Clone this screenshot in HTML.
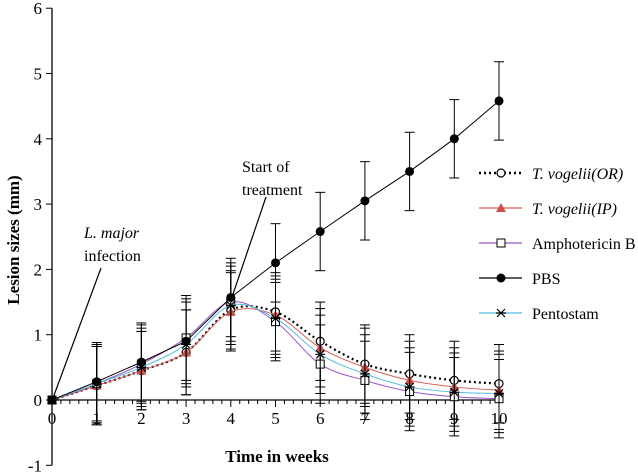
<!DOCTYPE html>
<html><head><meta charset="utf-8"><style>
body{margin:0;background:#fff}
svg{display:block}
svg text{font-family:"Liberation Serif","Times New Roman",serif}
</style></head><body>
<svg id="chart" width="638" height="476" viewBox="0 0 638 476" font-family="Liberation Serif, serif">
<g id="axes"></g><g id="series"></g><g id="legend"></g>
<g font-size="16">
<text x="84" y="238" font-style="italic">L. major</text>
<text x="84" y="261">infection</text>
<line x1="101" y1="268" x2="53" y2="398" stroke="#000" stroke-width="1.2"/>
<text x="242" y="172">Start of</text>
<text x="242" y="195">treatment</text>
<line x1="266" y1="197" x2="231" y2="300" stroke="#000" stroke-width="1.2"/>
</g>
<text x="277" y="462" text-anchor="middle" font-weight="bold" font-size="17">Time in weeks</text>
<text transform="translate(19,240) rotate(-90)" text-anchor="middle" font-weight="bold" font-size="17">Lesion sizes (mm)</text>
</svg>
<script>
const weeks=[0,1,2,3,4,5,6,7,8,9,10];
const orVals=[0,0.22,0.45,0.73,1.38,1.35,0.9,0.55,0.4,0.3,0.25];
const ipVals=[0,0.22,0.45,0.73,1.35,1.3,0.8,0.5,0.3,0.2,0.15];
const ambVals=[0,0.25,0.55,0.95,1.5,1.2,0.55,0.3,0.13,0.05,0.02];
const pbsVals=[0,0.28,0.58,0.9,1.57,2.1,2.58,3.05,3.5,4.0,4.58];
const pentoVals=[0,0.25,0.5,0.85,1.45,1.25,0.7,0.4,0.2,0.12,0.1];
const errVals=[0,0.6,0.6,0.65,0.6,0.6,0.6,0.6,0.6,0.6,0.6];
const yTicks=[-1,0,1,2,3,4,5,6];
const xTicks=[0,1,2,3,4,5,6,7,8,9,10];
const NS="http://www.w3.org/2000/svg";
const X=v=>52+v*44.7, Y=v=>400-v*65.3;
function mk(t,a,p){const e=document.createElementNS(NS,t);for(const k in a)e.setAttribute(k,a[k]);p.appendChild(e);return e;}
const ax=document.getElementById('axes');
let e=mk('line',{x1:52,y1:Y(6),x2:52,y2:Y(-1),stroke:'#000','stroke-width':1.3},ax);


e=mk('line',{x1:52,y1:400,x2:X(10)+2,y2:400,stroke:'#000','stroke-width':1.3},ax);


yTicks.forEach(v=>{mk('line',{x1:46,y1:Y(v),x2:52,y2:Y(v),stroke:'#000'},ax);
 const t=mk('text',{x:42,y:Y(v)+6,'text-anchor':'end','font-size':17},ax);t.textContent=v;
 
 });
for(let i=0;i<=50;i++){const v=i/5;mk('line',{x1:X(v),y1:400,x2:X(v),y2:i%5?404:407,stroke:'#000'},ax);}
xTicks.forEach(v=>{const t=mk('text',{x:X(v),y:424,'text-anchor':'middle','font-size':17},ax);t.textContent=v;
 
 });
const sg=document.getElementById('series');
function smooth(vals){const p=weeks.map((w,i)=>[X(w),Y(vals[i])]);let d='M'+p[0];
 for(let i=0;i<p.length-1;i++){const p0=p[i-1]||p[i],p1=p[i],p2=p[i+1],p3=p[i+2]||p2;
 d+=' C'+(p1[0]+(p2[0]-p0[0])/6)+','+(p1[1]+(p2[1]-p0[1])/6)+' '+(p2[0]-(p3[0]-p1[0])/6)+','+(p2[1]-(p3[1]-p1[1])/6)+' '+p2;}return d;}
const series=[
 {name:'or',vals:orVals,color:'#000',dash:'2,3',w:2.2,smooth:true,m:'circle-open'},
 {name:'ip',vals:ipVals,color:'#d9605a',w:1,smooth:true,m:'tri'},
 {name:'amb',vals:ambVals,color:'#9955cc',w:1,smooth:true,m:'square'},
 {name:'pento',vals:pentoVals,color:'#55bbdd',w:1,smooth:true,m:'star'},
 {name:'pbs',vals:pbsVals,color:'#000',w:1,smooth:false,m:'dot'}];
function marker(m,x,y,g,c){
 if(m==='circle-open')mk('circle',{cx:x,cy:y,r:4,fill:'#fff',stroke:'#000','stroke-width':1.2},g);
 if(m==='tri')mk('path',{d:`M${x},${y-5}L${x+5},${y+4}L${x-5},${y+4}Z`,fill:'#c9504c'},g);
 if(m==='square')mk('rect',{x:x-4,y:y-4,width:8,height:8,fill:'#fff',stroke:'#000'},g);
 if(m==='star')mk('path',{d:`M${x-4},${y-4}L${x+4},${y+4}M${x+4},${y-4}L${x-4},${y+4}M${x-5},${y}L${x+5},${y}`,stroke:'#000','stroke-width':1.2},g);
 if(m==='dot')mk('circle',{cx:x,cy:y,r:4.5,fill:'#000'},g);}
series.forEach(s=>{const g=mk('g',{},sg);
 
 
 weeks.forEach((w,i)=>{if(!errVals[i])return;const x=X(w);
  mk('line',{x1:x,y1:Y(s.vals[i]-errVals[i]),x2:x,y2:Y(s.vals[i]+errVals[i]),stroke:'#000'},g);
  [s.vals[i]-errVals[i],s.vals[i]+errVals[i]].forEach(v=>mk('line',{x1:x-5,y1:Y(v),x2:x+5,y2:Y(v),stroke:'#000'},g));});
 const d=s.smooth?smooth(s.vals):'M'+weeks.map((w,i)=>X(w)+','+Y(s.vals[i])).join('L');
 const a={d,fill:'none',stroke:s.color,'stroke-width':s.w};if(s.dash)a['stroke-dasharray']=s.dash;mk('path',a,g);
 weeks.forEach((w,i)=>marker(s.m,X(w),Y(s.vals[i]),g));});
const lg=document.getElementById('legend');
const labels=[['T. vogelii(OR)',true],['T. vogelii(IP)',true],['Amphotericin B',false],['PBS',false],['Pentostam',false]];
const order=[0,1,2,4,3];
labels.forEach((l,i)=>{const s=series[order[i]];const y=173+i*35;const g=mk('g',{},lg);
 
 
 const a={x1:479,y1:y,x2:522,y2:y,stroke:s.color,'stroke-width':s.w+0.3};if(s.dash)a['stroke-dasharray']=s.dash;mk('line',a,g);
 marker(s.m,501,y,g);
 const t=mk('text',{x:532,y:y+6,'font-size':16},g);if(l[1])t.setAttribute('font-style','italic');t.textContent=l[0];});
</script>
</body></html>
